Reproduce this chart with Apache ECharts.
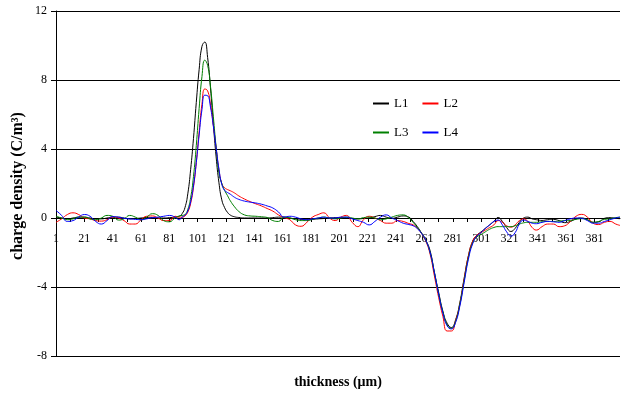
<!DOCTYPE html>
<html>
<head>
<meta charset="utf-8">
<script src="https://cdn.jsdelivr.net/npm/echarts@6/dist/echarts.min.js"></script>
<style>html,body{margin:0;padding:0;background:#fff}#c{width:621px;height:394px}</style>
</head>
<body>
<div id="c"></div>
<script>
// thickness positions (μm) of the sampled points
const xs = [
  1,5,9,13,17,21,25,29,33,37,41,45,49,53,57,61,65,69,73,77,81,85,
  88,90,92,94,96,98,100,102,104,106,108,110,112,114,116,118,120,122,124,
  127,130,134,138,142,146,150,154,158,162,
  166,170,174,178,182,186,190,194,198,202,206,210,214,218,222,226,230,234,238,242,246,
  250,253,256,259,262,265,268,271,274,277,280,283,286,289,292,295,298,301,304,307,310,313,
  316,319,322,325,328,331,334,337,
  340,344,348,352,356,360,364,368,372,376,380,384,388,392,396,399
];
const L1 = [
  0.05,0.0,-0.05,0.0,0.05,0.05,0.0,-0.05,-0.05,0.0,0.05,0.05,0.0,-0.05,-0.03,0.0,0.03,0.02,0.0,0.0,0.02,0.05,
  0.1,0.25,0.6,1.4,2.8,4.6,6.7,8.6,9.95,10.2,9.3,7.56,5.48,3.54,2.04,1.05,0.6,0.33,0.17,
  0.07,0.03,0.0,0.0,0.0,0.0,0.0,0.02,0.05,0.05,
  0.0,-0.05,-0.08,-0.1,-0.08,-0.05,-0.03,0.0,0.02,0.02,0.0,-0.03,-0.05,-0.03,0.0,0.08,0.15,0.05,-0.02,0.05,0.12,
  0.05,-0.2,-0.5,-0.88,-1.3,-1.9,-3.15,-4.3,-5.4,-6.1,-6.35,-5.9,-4.9,-3.5,-2.2,-1.35,-1.0,-0.8,-0.6,-0.4,-0.2,0.03,
  -0.2,-0.55,-0.78,-0.6,-0.25,0.0,0.05,-0.05,
  -0.1,-0.14,-0.1,-0.08,-0.15,-0.27,-0.2,-0.05,0.0,-0.1,-0.25,-0.22,-0.02,0.02,-0.02,-0.04
];
const L2 = [
  -0.25,-0.05,0.2,0.3,0.2,0.0,-0.05,-0.15,-0.18,-0.1,0.05,0.0,-0.15,-0.35,-0.35,-0.1,0.1,0.12,0.0,-0.15,-0.15,0.1,
  0.05,0.05,0.12,0.34,0.84,1.78,3.22,4.99,6.6,7.48,7.37,6.61,5.42,4.07,2.79,2.0,1.75,1.65,1.58,
  1.45,1.28,1.1,0.95,0.82,0.7,0.55,0.4,0.18,0.02,
  -0.1,-0.4,-0.48,-0.25,0.05,0.2,0.3,0.0,-0.15,0.05,0.15,-0.25,-0.5,-0.1,0.1,0.0,-0.15,-0.3,-0.3,-0.15,-0.2,
  -0.32,-0.4,-0.6,-0.9,-1.35,-2.1,-3.35,-4.6,-5.7,-6.55,-6.55,-5.95,-5.0,-3.55,-2.2,-1.35,-1.0,-0.85,-0.7,-0.55,-0.4,-0.15,
  -0.25,-0.45,-0.53,-0.4,-0.15,-0.05,-0.2,-0.55,
  -0.7,-0.5,-0.35,-0.35,-0.5,-0.45,-0.2,0.1,0.21,0.05,-0.3,-0.38,-0.25,-0.2,-0.35,-0.43
];
const L3 = [
  0.1,0.0,-0.1,-0.05,0.05,0.05,-0.05,-0.1,0.0,0.15,0.1,-0.12,-0.05,0.15,0.05,-0.1,0.05,0.25,0.15,-0.15,-0.22,0.0,
  0.12,0.15,0.2,0.49,1.17,2.4,4.2,6.35,8.2,9.15,8.85,7.65,5.9,4.1,2.6,2.0,1.6,1.3,1.0,
  0.65,0.38,0.18,0.12,0.1,0.07,0.03,-0.15,-0.2,0.05,
  0.0,-0.1,-0.15,-0.15,-0.08,0.0,0.05,0.0,-0.05,0.0,0.05,0.0,-0.05,0.02,0.05,0.0,-0.1,-0.05,0.05,0.15,0.18,
  0.0,-0.25,-0.55,-0.88,-1.3,-2.0,-3.15,-4.4,-5.45,-6.2,-6.4,-6.0,-5.0,-3.65,-2.3,-1.45,-1.1,-0.95,-0.8,-0.65,-0.55,-0.5,
  -0.5,-0.5,-0.5,-0.45,-0.35,-0.28,-0.25,-0.25,
  -0.25,-0.22,-0.2,-0.2,-0.18,-0.15,-0.14,-0.08,-0.04,-0.1,-0.25,-0.2,-0.08,-0.05,0.02,0.05
];
const L4 = [
  0.44,0.15,-0.2,-0.15,0.05,0.2,0.1,-0.2,-0.35,-0.15,0.08,0.05,-0.02,-0.05,-0.08,-0.1,-0.05,0.02,0.05,0.1,0.15,0.05,
  -0.1,0.05,0.16,0.41,0.94,1.86,3.21,4.81,6.28,7.12,7.09,6.43,5.34,4.06,2.83,1.95,1.6,1.48,1.38,
  1.2,1.08,0.98,0.92,0.87,0.8,0.7,0.58,0.35,0.05,
  0.1,0.05,-0.05,-0.1,-0.05,0.0,0.05,0.0,0.0,0.05,0.05,-0.05,-0.15,-0.25,-0.4,-0.2,0.05,0.18,0.0,-0.15,-0.3,
  -0.38,-0.45,-0.62,-0.9,-1.3,-2.0,-3.15,-4.4,-5.5,-6.25,-6.43,-6.05,-5.1,-3.75,-2.4,-1.5,-1.05,-0.85,-0.6,-0.4,-0.2,-0.12,
  -0.4,-0.8,-1.05,-0.85,-0.35,-0.12,-0.2,-0.3,
  -0.33,-0.25,-0.2,-0.22,-0.25,-0.15,-0.05,0.0,-0.02,-0.15,-0.3,-0.3,-0.2,-0.1,0.0,0.05
];
const xTickLabels = ['1','21','41','61','81','101','121','141','161','181','201','221','241','261','281','301','321','341','361','381'];
const seriesNames = ['L1','L2','L3','L4'];
const seriesColors = ['#000000','#ff0000','#008000','#0000ff'];
const seriesValues = [L1, L2, L3, L4];

const FONT = '"Liberation Serif","Times New Roman",serif';
const GRID_TOP = 11, GRID_H = 345, Y_MIN = -8, Y_MAX = 12;
// distance from the bottom of the plot up to the zero line (x axis sits on y = 0)
const zeroOffset = GRID_H * (0 - Y_MIN) / (Y_MAX - Y_MIN);

function legendItem(k) {
  return {name: seriesNames[k], icon: 'rect', itemStyle: {color: seriesColors[k], borderWidth: 0, opacity: 1}};
}
const legendCommon = {
  itemWidth: 16, itemHeight: 2, itemGap: 14, padding: 0,
  textStyle: {fontFamily: FONT, fontSize: 13, color: '#000'}
};

const chart = echarts.init(document.getElementById('c'), null, {renderer: 'canvas'});
chart.setOption({
  animation: false,
  backgroundColor: '#ffffff',
  grid: {left: 56, right: 1, top: GRID_TOP, height: GRID_H, containLabel: false},
  legend: [
    Object.assign({data: [legendItem(0), legendItem(1)], left: 373, top: 97}, legendCommon),
    Object.assign({data: [legendItem(2), legendItem(3)], left: 373, top: 126}, legendCommon)
  ],
  xAxis: {
    type: 'value', min: 0, max: 398, interval: 10, position: 'bottom', offset: -zeroOffset,
    axisLine: {show: true, onZero: false, lineStyle: {color: '#000', width: 1}},
    axisTick: {show: true, length: 4, lineStyle: {color: '#000', width: 1}},
    axisLabel: {
      margin: 15, fontFamily: FONT, fontSize: 12, color: '#000', showMaxLabel: false,
      formatter: function (v) { return (v % 20 === 0 && xTickLabels[v / 20] !== undefined) ? xTickLabels[v / 20] : ''; }
    },
    splitLine: {show: false}
  },
  yAxis: {
    type: 'value', min: Y_MIN, max: Y_MAX, interval: 4,
    axisLine: {show: true, lineStyle: {color: '#000', width: 1}},
    axisTick: {show: true, length: 5, lineStyle: {color: '#000', width: 1}},
    axisLabel: {margin: 9, fontFamily: FONT, fontSize: 12, color: '#000'},
    splitLine: {show: true, lineStyle: {color: '#000', width: 1}}
  },
  graphic: [
    {type: 'text', x: 338, y: 382,
     style: {text: 'thickness (μm)', fontFamily: FONT, fontSize: 14, fontWeight: 'bold', fill: '#000', align: 'center', verticalAlign: 'middle'}},
    {type: 'text', x: 18, y: 186, rotation: Math.PI / 2,
     style: {text: 'charge density (C/m³)', fontFamily: FONT, fontSize: 16, fontWeight: 'bold', fill: '#000', align: 'center', verticalAlign: 'middle'}}
  ],
  series: seriesNames.map(function (name, k) {
    return {
      name: name, type: 'line', smooth: true, symbol: 'none', showSymbol: false,
      lineStyle: {color: seriesColors[k], width: 1}, itemStyle: {color: seriesColors[k]},
      data: xs.map(function (x, i) { return [x - 1, seriesValues[k][i]]; })
    };
  })
});
</script>
</body>
</html>
